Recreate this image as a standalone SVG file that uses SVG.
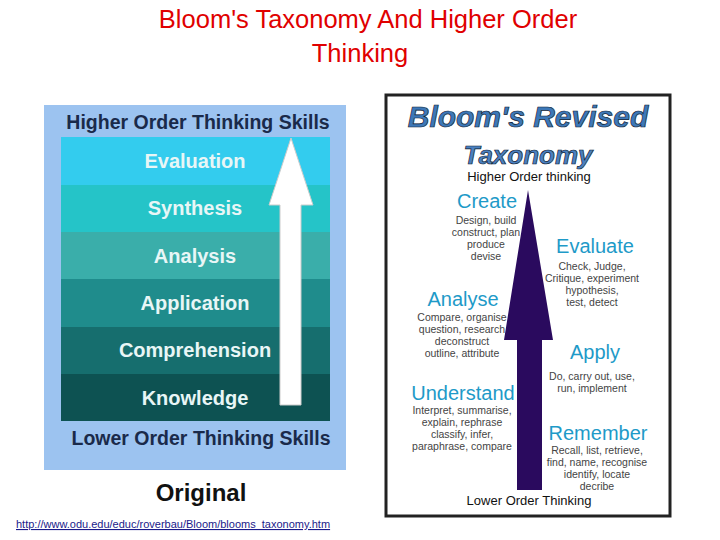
<svg xmlns="http://www.w3.org/2000/svg" width="720" height="540" viewBox="0 0 720 540">
<style>
.t{font-family:"Liberation Sans",Arial,sans-serif}
.band{font-family:"Liberation Sans",Arial,sans-serif;font-weight:bold;font-size:20px;fill:#e8f6f6;text-anchor:middle}
.h{font-family:"Liberation Sans",Arial,sans-serif;font-size:20px;fill:#1e9ac8;text-anchor:middle}
.d{font-family:"Liberation Sans",Arial,sans-serif;font-size:10.5px;fill:#444;text-anchor:middle}
</style>
<rect width="720" height="540" fill="#fff"/>
<g id="title"><text class="t" x="368" y="28" font-size="25.5" fill="#e00000" text-anchor="middle">Bloom's Taxonomy And Higher Order</text>
<text class="t" x="360" y="62" font-size="25.5" fill="#e00000" text-anchor="middle">Thinking</text></g>
<g id="original">
<rect x="44" y="105" width="302" height="365" fill="#9cc3f0"/>
<text class="t" x="198" y="129" font-size="19.5" font-weight="bold" fill="#1a2a4a" text-anchor="middle">Higher Order  Thinking Skills</text>
<rect x="61" y="137" width="269" height="48" fill="#33ccee"/>
<rect x="61" y="185" width="269" height="47" fill="#25c4c8"/>
<rect x="61" y="232" width="269" height="47" fill="#3aaeaa"/>
<rect x="61" y="279" width="269" height="48" fill="#1f8c8c"/>
<rect x="61" y="327" width="269" height="47" fill="#166e6e"/>
<rect x="61" y="374" width="269" height="47" fill="#0d5252"/>
<text class="band" x="195" y="168">Evaluation</text>
<text class="band" x="195" y="215">Synthesis</text>
<text class="band" x="195" y="263">Analysis</text>
<text class="band" x="195" y="310">Application</text>
<text class="band" x="195" y="357">Comprehension</text>
<text class="band" x="195" y="405">Knowledge</text>
<polygon points="291,138 313,205 301,205 301,405 280,405 280,205 269,205" fill="#fff" stroke="#ccc" stroke-width="1"/>
<text class="t" x="201" y="445" font-size="19.5" font-weight="bold" fill="#1a2a4a" text-anchor="middle">Lower Order Thinking Skills</text>
<text class="t" x="201" y="501" font-size="24" font-weight="bold" fill="#111" text-anchor="middle">Original</text>
</g>
<g id="revised">
<rect x="386" y="95" width="284" height="421" fill="#fff" stroke="#222" stroke-width="3"/>
<text class="t" x="528" y="127" font-size="30" font-weight="bold" font-style="italic" fill="#3d78b8" stroke="#123" stroke-width="0.7" text-anchor="middle">Bloom's Revised</text>
<text class="t" x="528" y="164" font-size="26" font-weight="bold" font-style="italic" fill="#4a80c0" stroke="#123" stroke-width="0.7" text-anchor="middle">Taxonomy</text>
<text class="t" x="529" y="181" font-size="13" fill="#111" text-anchor="middle">Higher Order thinking</text>
<polygon points="528,190 553,340 542,340 542,490 517,490 517,340 504,340" fill="#2a0a5e"/>
<text class="h" x="487" y="208">Create</text>
<text class="d" x="486" y="224">Design, build</text><text class="d" x="486" y="236">construct, plan</text><text class="d" x="486" y="248">produce</text><text class="d" x="486" y="260">devise</text>
<text class="h" x="595" y="253">Evaluate</text>
<text class="d" x="592" y="270">Check, Judge,</text><text class="d" x="592" y="282">Critique, experiment</text><text class="d" x="592" y="294">hypothesis,</text><text class="d" x="592" y="306">test, detect</text>
<text class="h" x="463" y="306">Analyse</text>
<text class="d" x="462" y="321">Compare, organise</text><text class="d" x="462" y="333">question, research</text><text class="d" x="462" y="345">deconstruct</text><text class="d" x="462" y="357">outline, attribute</text>
<text class="h" x="595" y="359">Apply</text>
<text class="d" x="592" y="380">Do, carry out, use,</text><text class="d" x="592" y="392">run, implement</text>
<text class="h" x="463" y="400" font-size="19">Understand</text>
<text class="d" x="462" y="414">Interpret, summarise,</text><text class="d" x="462" y="426">explain, rephrase</text><text class="d" x="462" y="438">classify, infer,</text><text class="d" x="462" y="450">paraphrase, compare</text>
<text class="h" x="598" y="440" font-size="19">Remember</text>
<text class="d" x="597" y="454">Recall, list, retrieve,</text><text class="d" x="597" y="466">find, name, recognise</text><text class="d" x="597" y="478">identify, locate</text><text class="d" x="597" y="490">decribe</text>
<text class="t" x="529" y="505" font-size="13" fill="#111" text-anchor="middle">Lower Order Thinking</text>
</g>
<g id="link"><text class="t" x="16" y="528" font-size="11" fill="#1a1a8a" text-decoration="underline">http://www.odu.edu/educ/roverbau/Bloom/blooms_taxonomy.htm</text></g>
</svg>
